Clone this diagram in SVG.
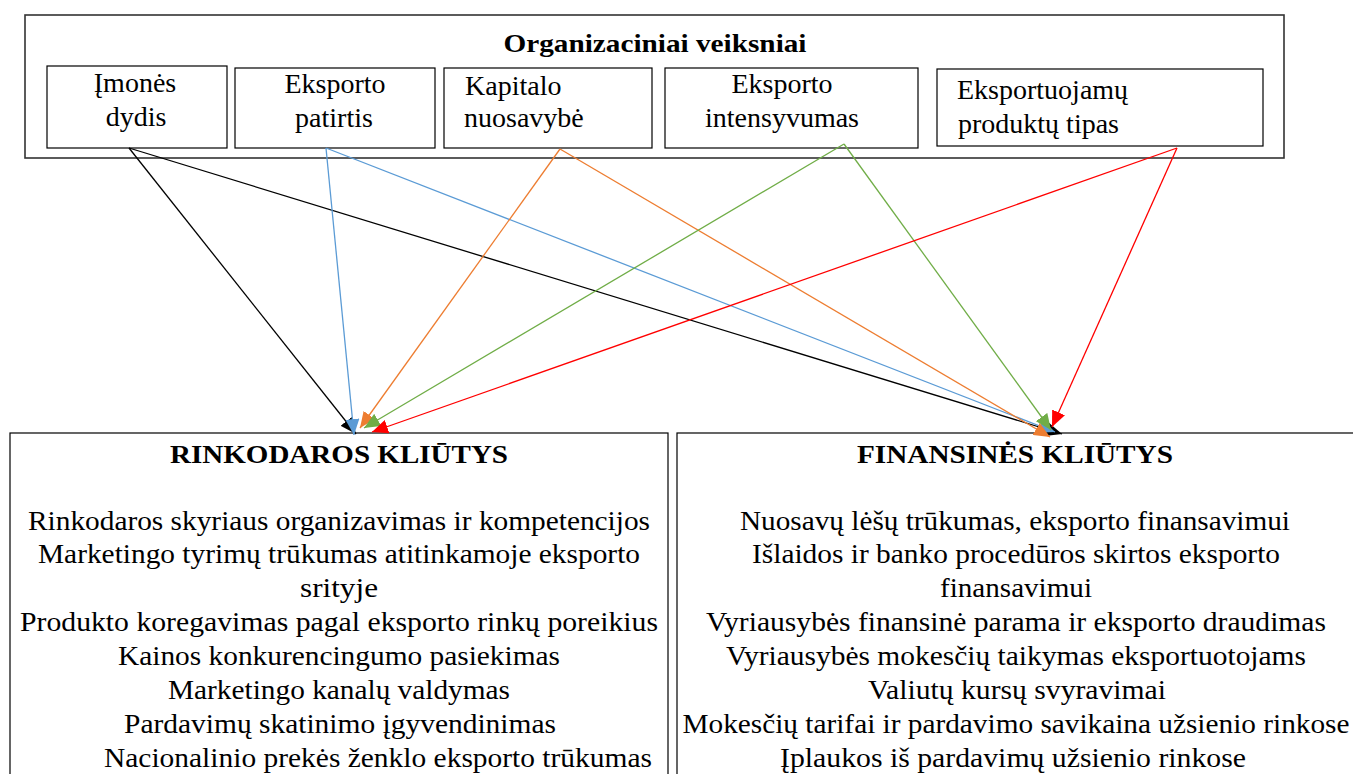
<svg xmlns="http://www.w3.org/2000/svg" width="1353" height="774" viewBox="0 0 1353 774">
  <style>
    .t { font-family: "Liberation Serif", "Times New Roman", serif; fill: #000; }
    .fac { font-size: 28px; }
    .hd { font-size: 25px; font-weight: bold; }
    .body { font-size: 27px; }
    .box { fill: #fff; stroke: #000; stroke-width: 1.2; }
    .outer { fill: #fff; stroke: #333; stroke-width: 1.6; }
    .c { fill: none; stroke-width: 1.3; }
  </style>
  <defs>
    <marker id="ah-black" markerUnits="userSpaceOnUse" markerWidth="18" markerHeight="14" refX="16" refY="7" orient="auto"><path d="M0,0 L16,7 L0,14 z" fill="#000"/></marker>
    <marker id="ah-blue" markerUnits="userSpaceOnUse" markerWidth="18" markerHeight="14" refX="16" refY="7" orient="auto"><path d="M0,0 L16,7 L0,14 z" fill="#5B9BD5"/></marker>
    <marker id="ah-orange" markerUnits="userSpaceOnUse" markerWidth="18" markerHeight="14" refX="16" refY="7" orient="auto"><path d="M0,0 L16,7 L0,14 z" fill="#ED7D31"/></marker>
    <marker id="ah-green" markerUnits="userSpaceOnUse" markerWidth="18" markerHeight="14" refX="16" refY="7" orient="auto"><path d="M0,0 L16,7 L0,14 z" fill="#70AD47"/></marker>
    <marker id="ah-red" markerUnits="userSpaceOnUse" markerWidth="18" markerHeight="14" refX="16" refY="7" orient="auto"><path d="M0,0 L16,7 L0,14 z" fill="#FF0000"/></marker>
  </defs>

  <rect width="1353" height="774" fill="#fff"/>

  <!-- Organisational factors container -->
  <g id="organizaciniai-veiksniai">
    <rect class="outer" x="25" y="15" width="1259" height="143"/>
    <text class="t hd" x="655" y="52" text-anchor="middle" textLength="303" lengthAdjust="spacingAndGlyphs">Organizaciniai veiksniai</text>
  </g>

  <g id="imones-dydis">
    <rect class="box" x="47" y="66" width="180" height="82"/>
    <text class="t fac" x="135" y="92" text-anchor="middle">Įmonės</text>
    <text class="t fac" x="136" y="126" text-anchor="middle">dydis</text>
  </g>

  <g id="eksporto-patirtis">
    <rect class="box" x="235" y="68" width="200" height="80"/>
    <text class="t fac" x="335" y="93" text-anchor="middle">Eksporto</text>
    <text class="t fac" x="334" y="127" text-anchor="middle">patirtis</text>
  </g>

  <g id="kapitalo-nuosavybe">
    <rect class="box" x="444" y="68" width="208" height="80"/>
    <text class="t fac" x="465" y="95">Kapitalo</text>
    <text class="t fac" x="464" y="127">nuosavybė</text>
  </g>

  <g id="eksporto-intensyvumas">
    <rect class="box" x="665" y="68" width="253" height="80"/>
    <text class="t fac" x="782" y="93" text-anchor="middle">Eksporto</text>
    <text class="t fac" x="782" y="127" text-anchor="middle">intensyvumas</text>
  </g>

  <g id="produktu-tipas">
    <rect class="box" x="937" y="69" width="326" height="77"/>
    <text class="t fac" x="957" y="99">Eksportuojamų</text>
    <text class="t fac" x="958" y="133">produktų tipas</text>
  </g>

  <!-- Marketing barriers -->
  <g id="rinkodaros-kliutys">
    <rect class="box" x="10" y="433" width="658" height="360"/>
    <text class="t hd" x="339" y="463" text-anchor="middle" font-size="28" textLength="338" lengthAdjust="spacingAndGlyphs">RINKODAROS KLIŪTYS</text>
    <text class="t body" x="339" y="530" text-anchor="middle" textLength="622" lengthAdjust="spacingAndGlyphs">Rinkodaros skyriaus organizavimas ir kompetencijos</text>
    <text class="t body" x="339" y="563" text-anchor="middle" textLength="602" lengthAdjust="spacingAndGlyphs">Marketingo tyrimų trūkumas atitinkamoje eksporto</text>
    <text class="t body" x="339" y="597" text-anchor="middle" textLength="78" lengthAdjust="spacingAndGlyphs">srityje</text>
    <text class="t body" x="339" y="631" text-anchor="middle" textLength="638" lengthAdjust="spacingAndGlyphs">Produkto koregavimas pagal  eksporto rinkų poreikius</text>
    <text class="t body" x="339" y="665" text-anchor="middle" textLength="442" lengthAdjust="spacingAndGlyphs">Kainos konkurencingumo pasiekimas</text>
    <text class="t body" x="339" y="699" text-anchor="middle" textLength="342" lengthAdjust="spacingAndGlyphs">Marketingo kanalų valdymas</text>
    <text class="t body" x="340" y="733" text-anchor="middle" textLength="432" lengthAdjust="spacingAndGlyphs">Pardavimų skatinimo įgyvendinimas</text>
    <text class="t body" x="378" y="767" text-anchor="middle" textLength="548" lengthAdjust="spacingAndGlyphs">Nacionalinio prekės ženklo eksporto trūkumas</text>
  </g>

  <!-- Financial barriers -->
  <g id="finansines-kliutys">
    <rect class="box" x="677" y="433" width="690" height="360"/>
    <text class="t hd" x="1015" y="463" text-anchor="middle" font-size="28" textLength="316" lengthAdjust="spacingAndGlyphs">FINANSINĖS KLIŪTYS</text>
    <text class="t body" x="1015" y="530" text-anchor="middle" textLength="550" lengthAdjust="spacingAndGlyphs">Nuosavų lėšų trūkumas, eksporto finansavimui</text>
    <text class="t body" x="1016" y="563" text-anchor="middle" textLength="528" lengthAdjust="spacingAndGlyphs">Išlaidos ir banko procedūros skirtos eksporto</text>
    <text class="t body" x="1016" y="597" text-anchor="middle" textLength="152" lengthAdjust="spacingAndGlyphs">finansavimui</text>
    <text class="t body" x="1016" y="631" text-anchor="middle" textLength="620" lengthAdjust="spacingAndGlyphs">Vyriausybės finansinė parama ir eksporto draudimas</text>
    <text class="t body" x="1016" y="665" text-anchor="middle" textLength="580" lengthAdjust="spacingAndGlyphs">Vyriausybės mokesčių taikymas eksportuotojams</text>
    <text class="t body" x="1017" y="699" text-anchor="middle" textLength="298" lengthAdjust="spacingAndGlyphs">Valiutų kursų svyravimai</text>
    <text class="t body" x="1016" y="733" text-anchor="middle" textLength="667" lengthAdjust="spacingAndGlyphs">Mokesčių tarifai ir pardavimo savikaina užsienio rinkose</text>
    <text class="t body" x="1013" y="767" text-anchor="middle" textLength="466" lengthAdjust="spacingAndGlyphs">Įplaukos iš pardavimų užsienio rinkose</text>
  </g>

  <!-- Connectors: every factor points to both barrier groups -->
  <g id="connectors">
    <line class="c" stroke="#000" x1="129" y1="148" x2="1062" y2="434" marker-end="url(#ah-black)"/>
    <line class="c" stroke="#000" x1="129" y1="148" x2="356" y2="434" marker-end="url(#ah-black)"/>
    <line class="c" stroke="#5B9BD5" x1="326" y1="148" x2="1055" y2="432" marker-end="url(#ah-blue)"/>
    <line class="c" stroke="#5B9BD5" x1="326" y1="148" x2="354" y2="435" marker-end="url(#ah-blue)"/>
    <line class="c" stroke="#ED7D31" x1="560" y1="149" x2="1050" y2="437" marker-end="url(#ah-orange)"/>
    <line class="c" stroke="#ED7D31" x1="560" y1="149" x2="360" y2="428" marker-end="url(#ah-orange)"/>
    <line class="c" stroke="#70AD47" x1="844" y1="144" x2="1051" y2="430" marker-end="url(#ah-green)"/>
    <line class="c" stroke="#70AD47" x1="844" y1="144" x2="364" y2="428" marker-end="url(#ah-green)"/>
    <line class="c" stroke="#FF0000" x1="1177" y1="148" x2="1052" y2="427" marker-end="url(#ah-red)"/>
    <line class="c" stroke="#FF0000" x1="1177" y1="148" x2="372" y2="432" marker-end="url(#ah-red)"/>
  </g>
</svg>
